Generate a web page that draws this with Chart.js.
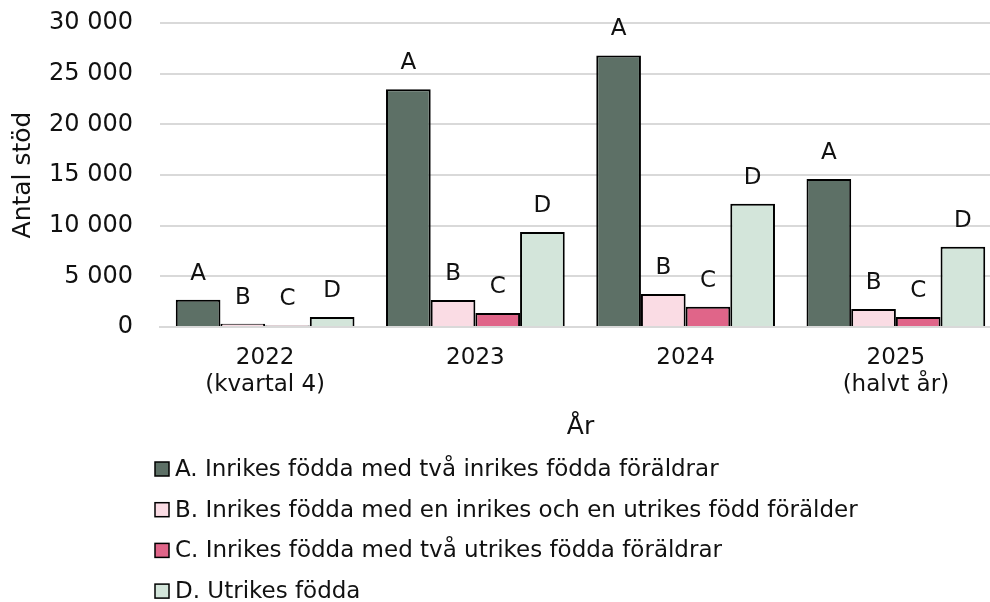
<!DOCTYPE html>
<html>
<head>
<meta charset="utf-8">
<script src="https://cdn.jsdelivr.net/npm/chart.js@4"></script>
<style>
html,body{margin:0;padding:0;background:#fff;overflow:hidden;}
#wrap{width:1010px;height:602px;position:relative;}
</style>
</head>
<body>
<div id="wrap"><canvas id="c"></canvas></div>
<script>
const categories = [['2022', '(kvartal 4)'], '2023', '2024', ['2025', '(halvt år)']];
const seriesNames = [
  'A. Inrikes födda med två inrikes födda föräldrar',
  'B. Inrikes födda med en inrikes och en utrikes född förälder',
  'C. Inrikes födda med två utrikes födda föräldrar',
  'D. Utrikes födda'
];
const seriesLetters = ['A', 'B', 'C', 'D'];
const seriesA = [2700, 23450, 26800, 14600];
const seriesB = [330, 2670, 3260, 1780];
const seriesC = [160, 1380, 2000, 990];
const seriesD = [990, 9380, 12170, 7930];
const seriesColors = ['#5d7066', '#fadce4', '#e06589', '#d3e5da'];
const yTicks = [0, 5000, 10000, 15000, 20000, 25000, 30000];
const yTitle = 'Antal stöd';
const xTitle = 'År';

const FONT = "'DejaVu Sans', sans-serif";
const TXT = '#111';

function fmt(v) { return String(v).replace(/\B(?=(\d{3})+(?!\d))/g, ' '); }

const letterPlugin = {
  id: 'letters',
  afterDatasetsDraw(chart) {
    const ctx = chart.ctx;
    ctx.save();
    ctx.font = '23px ' + FONT;
    ctx.fillStyle = TXT;
    ctx.textAlign = 'center';
    ctx.textBaseline = 'middle';
    chart.data.datasets.forEach((ds, i) => {
      chart.getDatasetMeta(i).data.forEach(el => {
        ctx.fillText(seriesLetters[i], el.x, el.y - 26);
      });
    });
    ctx.restore();
  }
};

const legendPlugin = {
  id: 'vlegend',
  afterDraw(chart) {
    const ctx = chart.ctx;
    ctx.save();
    ctx.font = '23px ' + FONT;
    ctx.textBaseline = 'middle';
    ctx.textAlign = 'left';
    const x0 = 155, y0 = 469, step = 40.7, sz = 14;
    chart.data.datasets.forEach((ds, i) => {
      const y = y0 + i * step;
      ctx.fillStyle = ds.backgroundColor;
      ctx.fillRect(x0, y - sz / 2, sz, sz);
      ctx.lineWidth = 1.5;
      ctx.strokeStyle = '#000';
      ctx.strokeRect(x0, y - sz / 2, sz, sz);
      ctx.fillStyle = TXT;
      ctx.fillText(ds.label, x0 + 20, y + 1);
    });
    ctx.restore();
  }
};

const seriesValues = [seriesA, seriesB, seriesC, seriesD];

new Chart(document.getElementById('c'), {
  type: 'bar',
  data: {
    labels: categories,
    datasets: seriesValues.map((vals, i) => ({
      label: seriesNames[i],
      data: vals,
      backgroundColor: seriesColors[i],
      borderColor: '#000',
      borderWidth: 2,
      categoryPercentage: 0.85,
      barPercentage: 1
    }))
  },
  options: {
    responsive: true,
    maintainAspectRatio: false,
    animation: false,
    layout: { padding: { top: 23, right: 9, bottom: 160, left: 0 } },
    plugins: {
      legend: { display: false },
      tooltip: { enabled: false }
    },
    scales: {
      x: {
        grid: { display: false, drawTicks: false },
        border: { display: true, color: '#d9d9d9', width: 2 },
        ticks: { color: TXT, font: { family: FONT, size: 23, lineHeight: 1.18 }, padding: 17, maxRotation: 0, autoSkip: false },
        title: { display: true, text: xTitle, color: TXT, font: { family: FONT, size: 25, lineHeight: 1.2 }, padding: { top: 0, bottom: 0 } },
        afterFit(scale) { scale.height = 115; scale.paddingLeft = 0; scale.paddingRight = 0; }
      },
      y: {
        min: 0, max: 30000,
        afterBuildTicks(scale) { scale.ticks = yTicks.map(v => ({ value: v })); },
        grid: { color: '#d9d9d9', lineWidth: 2, drawTicks: false },
        border: { display: false },
        ticks: { color: TXT, font: { family: FONT, size: 24 }, padding: 27, callback: v => fmt(v) },
        title: { display: true, text: yTitle, color: TXT, font: { family: FONT, size: 25, lineHeight: 1.2 }, padding: { top: 8, bottom: 0 } },
        afterFit(scale) { scale.width = 160; scale.paddingTop = 0; scale.paddingBottom = 0; }
      }
    }
  },
  plugins: [letterPlugin, legendPlugin]
});
</script>
</body>
</html>
